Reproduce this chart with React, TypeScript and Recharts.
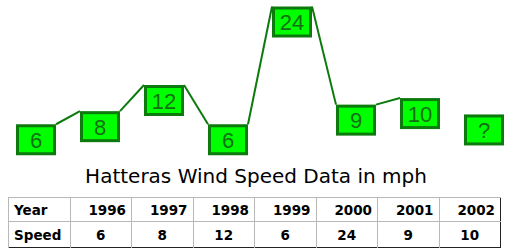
import { LineChart, Line, XAxis, YAxis } from "recharts";

const years = ["1996", "1997", "1998", "1999", "2000", "2001", "2002"];
const speeds = [6, 8, 12, 6, 24, 9, 10];
// the "?" box after the last year, drawn at about this speed level
const unknownLabel = "?";
const unknownLevel = 7.5;

const GREEN = "#00ff00";
const DARK = "#0c7a0c";
const TEXT_GREEN = "#146e14";
const BOX_W = 40;
const BOX_H = 31;

const chartData = [
  ...speeds.map((s, i) => ({ idx: i, pos: s, label: String(s), real: true })),
  { idx: speeds.length, pos: unknownLevel, label: unknownLabel, real: false },
];

function BoxDot(props: any) {
  const { cx, cy, index, payload, points } = props;
  if (cx == null || cy == null) return null;
  const next = points && points[index + 1];
  const linkNext = next && payload.real && next.payload && next.payload.real;
  return (
    <g key={`box-${index}`}>
      {linkNext && (
        <line
          x1={cx + BOX_W / 2}
          y1={cy - BOX_H / 2}
          x2={next.x - BOX_W / 2}
          y2={next.y - BOX_H / 2}
          stroke={DARK}
          strokeWidth={2}
        />
      )}
      <rect
        x={cx - BOX_W / 2 + 1.5}
        y={cy - BOX_H / 2 + 1.5}
        width={BOX_W - 3}
        height={BOX_H - 3}
        fill={GREEN}
        stroke={DARK}
        strokeWidth={3}
      />
      <text
        x={cx}
        y={cy + 8}
        textAnchor="middle"
        fontFamily="Liberation Sans, Arial, sans-serif"
        fontSize={22}
        fill={TEXT_GREEN}
      >
        {payload.label}
      </text>
    </g>
  );
}

const cellBase: React.CSSProperties = {
  borderLeft: "1px solid #b8b8b8",
  borderTop: "1px solid #b8b8b8",
  padding: "0 5px",
  width: 61,
  boxSizing: "border-box",
};

export default function App() {
  return (
    <div
      style={{
        position: "absolute",
        left: 0,
        top: 0,
        width: 510,
        height: 250,
        background: "#fff",
        overflow: "hidden",
      }}
    >
      <LineChart
        width={510}
        height={185}
        data={chartData}
        margin={{ top: 22, right: 26, bottom: 6, left: 36 }}
      >
        <XAxis dataKey="idx" type="number" domain={[0, 7]} hide />
        <YAxis domain={[0, 24]} hide />
        <Line
          dataKey="pos"
          stroke="none"
          dot={(p: any) => <BoxDot {...p} />}
          activeDot={false}
          isAnimationActive={false}
        />
      </LineChart>
      <div
        style={{
          position: "absolute",
          left: 0,
          top: 164,
          width: 512,
          textAlign: "center",
          fontFamily: "DejaVu Sans, sans-serif",
          fontSize: 20,
          color: "#000",
        }}
      >
        Hatteras Wind Speed Data in mph
      </div>
      <table
        style={{
          position: "absolute",
          left: 8,
          top: 197,
          width: 493,
          borderCollapse: "collapse",
          border: "1px solid #222",
          fontFamily: "DejaVu Sans, sans-serif",
          fontSize: 13.5,
          fontWeight: "bold",
          tableLayout: "fixed",
        }}
      >
        <tbody>
          <tr style={{ height: 24 }}>
            <td style={{ ...cellBase, textAlign: "left" }}>Year</td>
            {years.map((y) => (
              <td key={y} style={{ ...cellBase, textAlign: "right" }}>
                {y}
              </td>
            ))}
          </tr>
          <tr style={{ height: 26 }}>
            <td style={{ ...cellBase, textAlign: "left" }}>Speed</td>
            {speeds.map((s, i) => (
              <td key={i} style={{ ...cellBase, textAlign: "center" }}>
                {s}
              </td>
            ))}
          </tr>
        </tbody>
      </table>
    </div>
  );
}
